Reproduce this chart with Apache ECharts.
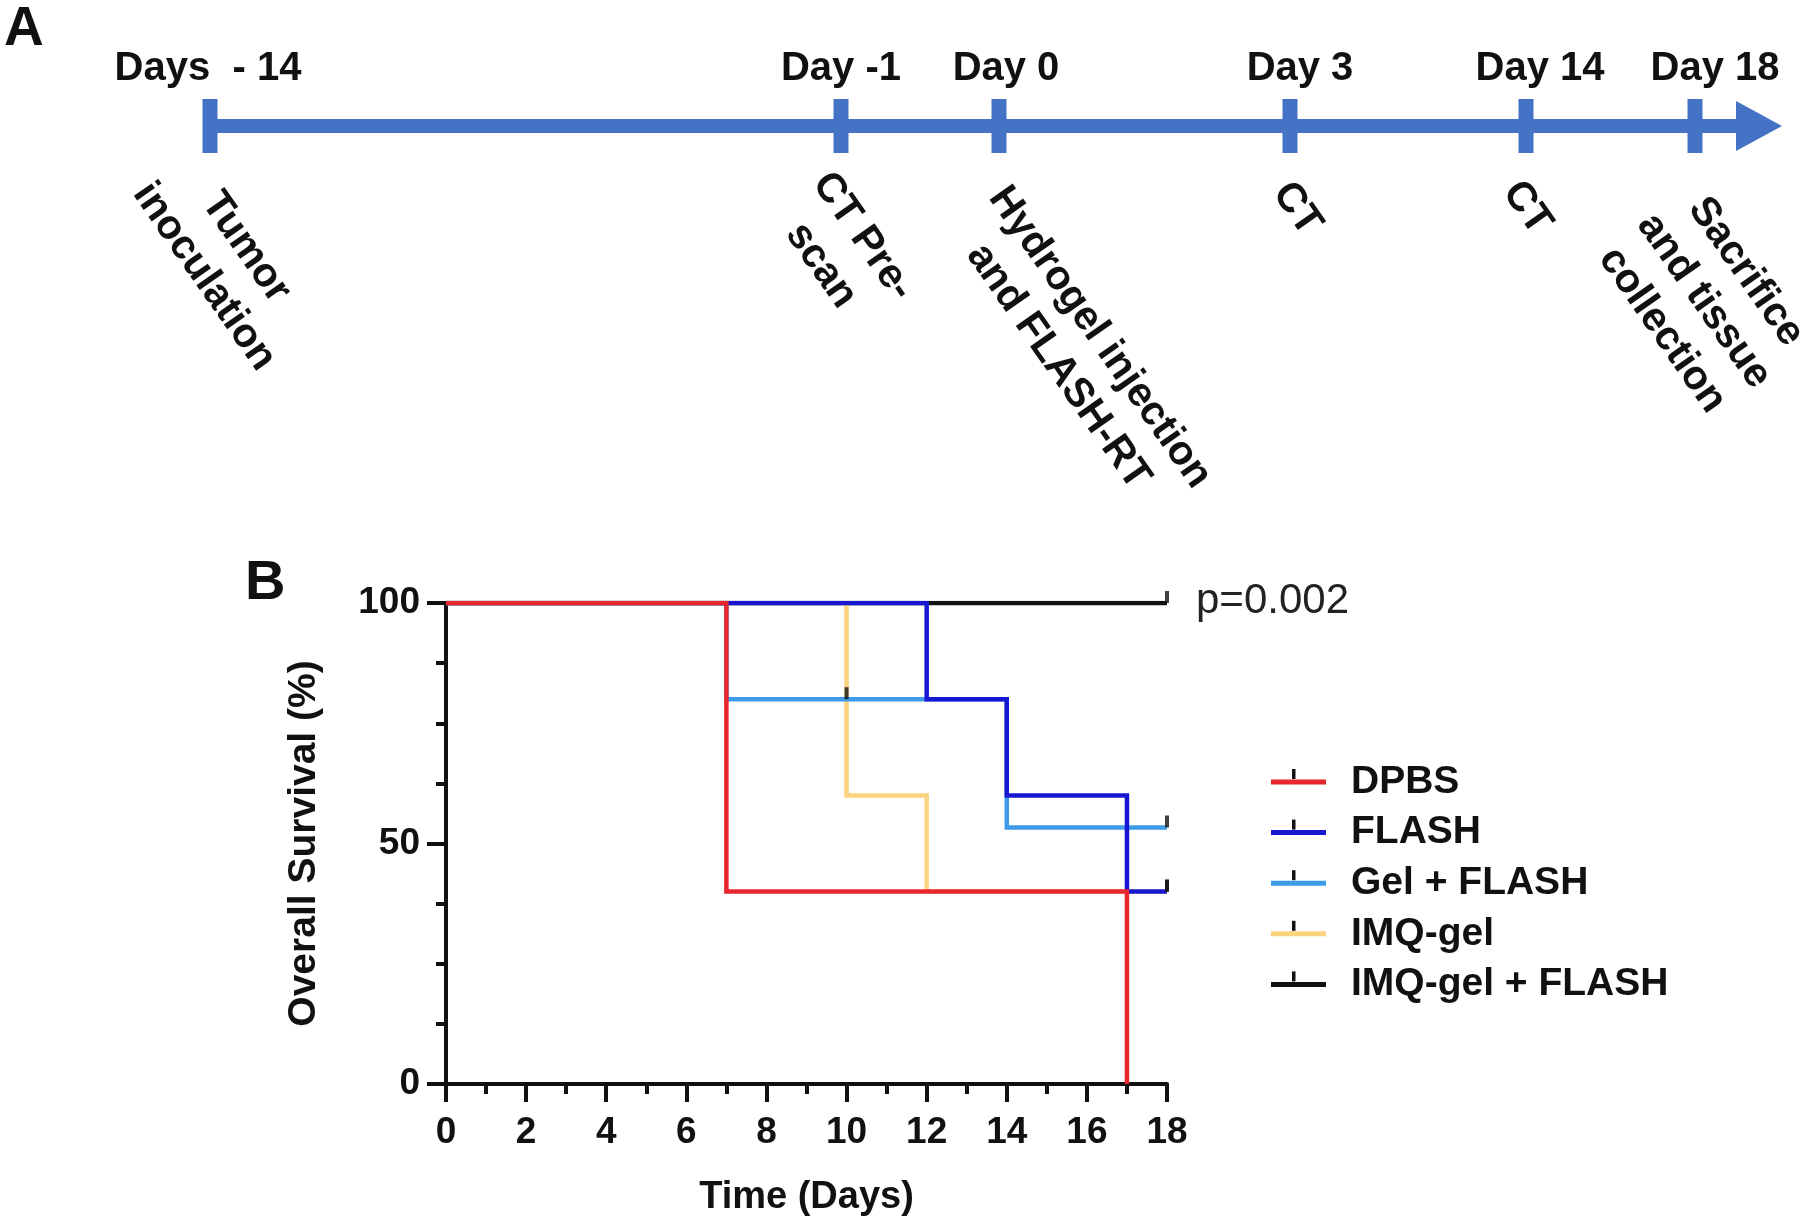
<!DOCTYPE html>
<html>
<head>
<meta charset="utf-8">
<script src="https://cdn.jsdelivr.net/npm/echarts@6/dist/echarts.min.js"></script>
<style>
  html, body { margin: 0; padding: 0; background: #ffffff; }
  #chart { width: 1800px; height: 1220px; }
</style>
</head>
<body>
<div id="chart"></div>
<script>
// ---------- Panel A: timeline (schematic) ----------
const timelineTopLabels = ['Days  - 14', 'Day -1', 'Day 0', 'Day 3', 'Day 14', 'Day 18'];
const timelineEventLabels = ['Tumor\ninoculation', 'CT Pre-\nscan', 'Hydrogel injection\nand FLASH-RT', 'CT', 'CT', 'Sacrifice\nand tissue\ncollection'];

// ---------- Panel B: Kaplan-Meier survival ----------
const seriesNames = ['DPBS', 'FLASH', 'Gel + FLASH', 'IMQ-gel', 'IMQ-gel + FLASH'];
const dpbsSteps = [[0, 100], [7, 40], [17, 0]];
const flashSteps = [[0, 100], [12, 80], [14, 60], [17, 40], [18, 40]];
const gelFlashSteps = [[0, 100], [7, 80], [14, 53.33], [18, 53.33]];
const imqGelSteps = [[0, 100], [10, 60], [12, 40], [18, 40]];
const imqGelFlashSteps = [[0, 100], [18, 100]];
const censoredPoints = [[18, 100], [10, 80], [18, 53.33], [18, 40], [18, 40]];
const xTicks = [0, 18, 2];     // min, max, interval
const yTicks = [0, 100, 50];   // min, max, interval
const pValueText = 'p=0.002';

// ---------- layout / style ----------
const FONT = '"Liberation Sans", Arial, Helvetica, sans-serif';
const BLUE = '#4472C4';
const TXT = '#111111';
const colors = ['#e8262d', '#1717d2', '#3d9bea', '#fdd27e', '#111111'];
const tlY = 126;
const tlTickX = [210, 841, 999, 1290, 1526, 1695];
const tlTopX = [208, 841, 1006, 1300, 1540, 1715];
const tlEventPos = [[225, 262], [842, 251], [1079, 352], [1297, 209], [1527, 208], [1704, 301]];
const rot = -55 * Math.PI / 180;

const graphics = [];
// panel letters
graphics.push({ type: 'text', left: 4, top: 2, style: { text: 'A', font: 'bold 55px ' + FONT, fill: TXT } });
graphics.push({ type: 'text', left: 245, top: 556, style: { text: 'B', font: 'bold 56px ' + FONT, fill: TXT } });
// timeline line
graphics.push({ type: 'rect', shape: { x: tlTickX[0], y: tlY - 7, width: 1738 - tlTickX[0], height: 14 }, style: { fill: BLUE } });
graphics.push({ type: 'polygon', shape: { points: [[1736, tlY - 25], [1782, tlY], [1736, tlY + 25]] }, style: { fill: BLUE } });
timelineTopLabels.forEach((lab, i) => {
  graphics.push({ type: 'rect', shape: { x: tlTickX[i] - 7.5, y: tlY - 27, width: 15, height: 54 }, style: { fill: BLUE } });
  graphics.push({ type: 'text', x: tlTopX[i], y: 69, style: { text: lab, font: 'bold 40px ' + FONT, fill: TXT, align: 'center', verticalAlign: 'middle' } });
});
timelineEventLabels.forEach((lab, i) => {
  graphics.push({ type: 'text', x: tlEventPos[i][0], y: tlEventPos[i][1], rotation: rot,
    style: { text: lab, font: 'bold 41px ' + FONT, fill: TXT, align: 'center', verticalAlign: 'middle', lineHeight: 51 } });
});
// p-value
graphics.push({ type: 'text', x: 1196, y: 601, style: { text: pValueText, font: '42px ' + FONT, fill: '#222', align: 'left', verticalAlign: 'middle' } });

// legend black censor ticks
const legTop = 757, legGap = 50.6, legLeft = 1266;
seriesNames.forEach((n, i) => {
  graphics.push({ type: 'rect', shape: { x: legLeft + 26, y: legTop + 20 + i * legGap - 8, width: 3.5, height: 10 }, style: { fill: '#111' }, z: 100 });
});

const stepData = [dpbsSteps, flashSteps, gelFlashSteps, imqGelSteps, imqGelFlashSteps];
const series = [];
for (let i = seriesNames.length - 1; i >= 0; i--) {
  series.push({
    name: seriesNames[i], type: 'line', step: 'end', data: stepData[i],
    showSymbol: false, symbol: 'none', color: colors[i],
    lineStyle: { width: 4.5, color: colors[i], join: 'miter', cap: 'butt' },
    itemStyle: { color: colors[i] }, animation: false, z: 2 + (seriesNames.length - i)
  });
}
series.push({
  name: 'censored', type: 'scatter', data: censoredPoints, symbol: 'rect', symbolSize: [4, 12], symbolOffset: [0, -6],
  itemStyle: { color: '#111' }, z: 20, animation: false
});

const chart = echarts.init(document.getElementById('chart'), null, { renderer: 'canvas' });
chart.setOption({
  backgroundColor: '#ffffff',
  animation: false,
  grid: { left: 446, top: 603, width: 721, height: 481, containLabel: false },
  xAxis: {
    type: 'value', min: xTicks[0], max: xTicks[1], interval: xTicks[2],
    name: 'Time (Days)', nameLocation: 'middle', nameGap: 95,
    nameTextStyle: { fontFamily: FONT, fontWeight: 'bold', fontSize: 38, color: TXT, verticalAlign: 'top' },
    axisLine: { show: true, onZero: false, lineStyle: { color: '#111', width: 4 } },
    axisTick: { show: true, length: 18, lineStyle: { color: '#111', width: 4 } },
    minorTick: { show: true, splitNumber: 2, length: 10, lineStyle: { color: '#111', width: 4 } },
    axisLabel: { fontFamily: FONT, fontWeight: 'bold', fontSize: 37, color: TXT, margin: 30 },
    splitLine: { show: false }, minorSplitLine: { show: false }
  },
  yAxis: {
    type: 'value', min: yTicks[0], max: yTicks[1], interval: yTicks[2],
    name: 'Overall Survival (%)', nameLocation: 'middle', nameGap: 122, nameRotate: 90,
    nameTextStyle: { fontFamily: FONT, fontWeight: 'bold', fontSize: 39, color: TXT },
    axisLine: { show: true, onZero: false, lineStyle: { color: '#111', width: 4 } },
    axisTick: { show: true, length: 19, lineStyle: { color: '#111', width: 4 } },
    minorTick: { show: true, splitNumber: 4, length: 10, lineStyle: { color: '#111', width: 4 } },
    axisLabel: { fontFamily: FONT, fontWeight: 'bold', fontSize: 37, color: TXT, margin: 26 },
    splitLine: { show: false }, minorSplitLine: { show: false }
  },
  legend: {
    data: seriesNames, orient: 'vertical', left: legLeft, top: legTop,
    itemWidth: 55, itemHeight: 5, itemGap: 10.6,
    icon: 'rect',
    textStyle: { fontFamily: FONT, fontWeight: 'bold', fontSize: 39, color: TXT, lineHeight: 40, padding: [0, 0, 0, 20] },
    selectedMode: false
  },
  graphic: graphics,
  series: series
});
</script>
</body>
</html>
